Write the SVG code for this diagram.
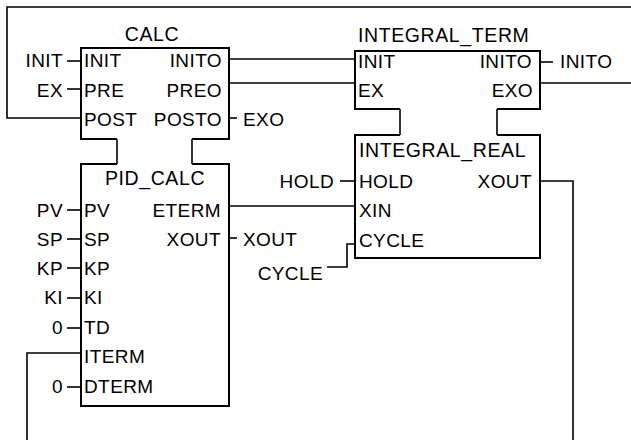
<svg xmlns="http://www.w3.org/2000/svg" width="631" height="440" viewBox="0 0 631 440">
<style>
.b{fill:none;stroke:#000;stroke-width:2}
.w{fill:none;stroke:#000;stroke-width:1.6}
text{font-family:"Liberation Sans",Arial,sans-serif;font-size:19px;fill:#000;letter-spacing:0.4px}
.t{font-size:19.5px;letter-spacing:0.6px}
.e{text-anchor:end}
.m{text-anchor:middle}
</style>
<rect width="631" height="440" fill="#fff"/>
<g id="connectors">
<path class="w" d="M631,7 H7 V118 H81"/>
<path class="w" d="M229,59 H355"/>
<path class="w" d="M229,83 H355"/>
<path class="w" d="M540,83 H631"/>
<path class="w" d="M117,139 V164"/>
<path class="w" d="M192,139 V164"/>
<path class="w" d="M400,109 V135"/>
<path class="w" d="M497,109 V135"/>
<path class="w" d="M229,206 H355"/>
<path class="w" d="M540,181 H573 V440"/>
<path class="w" d="M81,353 H27 V440"/>
<path class="w" d="M327,267 H347 V244 H355"/>
<path class="w" d="M340,181 H355"/>
<path class="w" d="M67,61 H81"/>
<path class="w" d="M67,89 H81"/>
<path class="w" d="M229,118 H237"/>
<path class="w" d="M540,62 H553"/>
<path class="w" d="M229,238 H237"/>
<path class="w" d="M67,210 H81"/>
<path class="w" d="M67,239 H81"/>
<path class="w" d="M67,268 H81"/>
<path class="w" d="M67,298 H81"/>
<path class="w" d="M67,328 H81"/>
<path class="w" d="M67,387 H81"/>
</g>
<g id="calc">
<path class="b" d="M117,139 H81 V48 H229 V139 H192"/>
<text class="m t" x="152" y="41">CALC</text>
<text x="84" y="67">INIT</text>
<text x="84" y="97">PRE</text>
<text x="84" y="126">POST</text>
<text class="e" x="222" y="67">INITO</text>
<text class="e" x="222" y="97">PREO</text>
<text class="e" x="222" y="126">POSTO</text>
</g>
<g id="calc-io">
<text class="e" x="63" y="67">INIT</text>
<text class="e" x="63" y="97">EX</text>
<text x="243" y="126">EXO</text>
</g>
<g id="integral_term">
<path class="b" d="M400,109 H355 V51 H540 V109 H497"/>
<text class="t" x="358" y="42">INTEGRAL_TERM</text>
<text x="358" y="68">INIT</text>
<text x="358" y="97">EX</text>
<text class="e" x="532" y="68">INITO</text>
<text class="e" x="533" y="97">EXO</text>
<text x="560" y="68">INITO</text>
</g>
<g id="integral_real">
<path class="b" d="M400,135 H355 V258 H540 V135 H497"/>
<text class="t" x="359" y="157">INTEGRAL_REAL</text>
<text x="359" y="188">HOLD</text>
<text x="359" y="217">XIN</text>
<text x="359" y="247">CYCLE</text>
<text class="e" x="532" y="188">XOUT</text>
<text class="e" x="334" y="188">HOLD</text>
<text class="e" x="323" y="280">CYCLE</text>
</g>
<g id="pid_calc">
<path class="b" d="M117,164 H81 V406 H229 V164 H192"/>
<text class="m t" x="155" y="185">PID_CALC</text>
<text x="84" y="217">PV</text>
<text x="84" y="246">SP</text>
<text x="84" y="275">KP</text>
<text x="84" y="304">KI</text>
<text x="84" y="334">TD</text>
<text x="84" y="363">ITERM</text>
<text x="84" y="393">DTERM</text>
<text class="e" x="221" y="217">ETERM</text>
<text class="e" x="221" y="246">XOUT</text>
<text x="243" y="246">XOUT</text>
<text class="e" x="63" y="217">PV</text>
<text class="e" x="63" y="246">SP</text>
<text class="e" x="63" y="275">KP</text>
<text class="e" x="63" y="304">KI</text>
<text class="e" x="63" y="334">0</text>
<text class="e" x="63" y="393">0</text>
</g>
</svg>
